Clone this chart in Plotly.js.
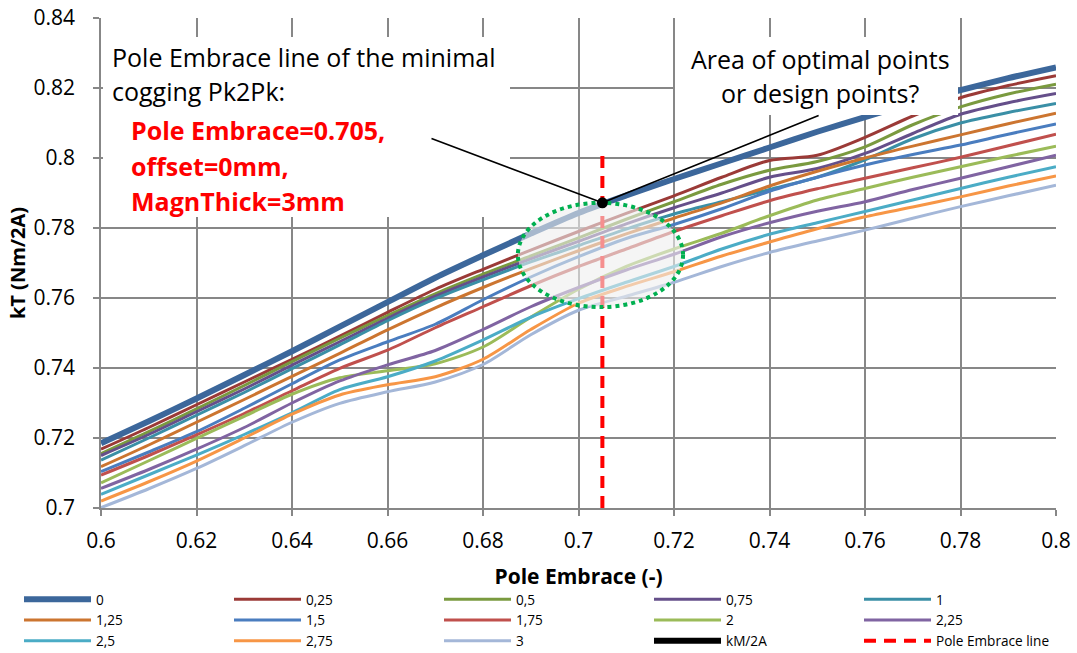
<!DOCTYPE html>
<html><head><meta charset="utf-8">
<script src="https://cdn.plot.ly/plotly-3.0.1.min.js"></script>
<style>html,body{margin:0;padding:0;background:#fff}#chart{width:1077px;height:653px}</style>
</head><body><div id="chart"></div>
<script>
// Pole embrace values (x axis)
const poleEmbrace = [0.60,0.61,0.62,0.63,0.64,0.65,0.66,0.67,0.68,0.69,0.70,0.71,0.72,0.73,0.74,0.75,0.76,0.77,0.78,0.79,0.80];

// Series names (offset in mm)
const seriesNames = ['0','0,25','0,5','0,75','1','1,25','1,5','1,75','2','2,25','2,5','2,75','3'];

// kT (Nm/2A) per offset
const kt_0   = [0.7185,0.7248,0.7313,0.7380,0.7448,0.7518,0.7588,0.7658,0.7722,0.7784,0.7843,0.7893,0.7940,0.7985,0.8030,0.8075,0.8117,0.8157,0.8194,0.8228,0.8259];
const kt_025 = [0.7168,0.7230,0.7295,0.7360,0.7425,0.7491,0.7559,0.7625,0.7682,0.7737,0.7790,0.7842,0.7892,0.7945,0.7993,0.8008,0.8059,0.8120,0.8172,0.8207,0.8235];
const kt_05  = [0.7155,0.7218,0.7283,0.7350,0.7418,0.7485,0.7550,0.7612,0.7668,0.7720,0.7772,0.7825,0.7875,0.7925,0.7965,0.7990,0.8032,0.8095,0.8146,0.8183,0.8211];
const kt_075 = [0.7150,0.7210,0.7275,0.7340,0.7408,0.7475,0.7542,0.7605,0.7660,0.7712,0.7762,0.7812,0.7858,0.7900,0.7945,0.7970,0.8013,0.8070,0.8125,0.8158,0.8184];
const kt_1   = [0.7137,0.7200,0.7265,0.7330,0.7398,0.7466,0.7535,0.7598,0.7652,0.7703,0.7750,0.7797,0.7840,0.7875,0.7910,0.7945,0.7995,0.8055,0.8100,0.8130,0.8156];
const kt_125 = [0.7118,0.7180,0.7245,0.7310,0.7376,0.7442,0.7509,0.7572,0.7630,0.7684,0.7735,0.7783,0.7828,0.7872,0.7920,0.7962,0.8000,0.8034,0.8066,0.8098,0.8128];
const kt_15  = [0.7104,0.7160,0.7218,0.7285,0.7355,0.7423,0.7475,0.7525,0.7595,0.7660,0.7718,0.7770,0.7810,0.7855,0.7905,0.7945,0.7980,0.8010,0.8037,0.8068,0.8097];
const kt_175 = [0.7094,0.7150,0.7209,0.7270,0.7335,0.7399,0.7451,0.7515,0.7575,0.7635,0.7690,0.7740,0.7790,0.7835,0.7878,0.7912,0.7942,0.7972,0.8002,0.8035,0.8068];
const kt_2   = [0.7072,0.7135,0.7199,0.7262,0.7325,0.7372,0.7392,0.7412,0.7460,0.7545,0.7625,0.7690,0.7740,0.7785,0.7835,0.7880,0.7913,0.7945,0.7975,0.8005,0.8034];
const kt_225 = [0.7056,0.7110,0.7168,0.7230,0.7300,0.7363,0.7409,0.7450,0.7510,0.7575,0.7630,0.7680,0.7725,0.7775,0.7815,0.7848,0.7875,0.7910,0.7942,0.7975,0.8008];
const kt_25  = [0.7039,0.7095,0.7151,0.7210,0.7272,0.7338,0.7375,0.7420,0.7480,0.7545,0.7598,0.7645,0.7690,0.7740,0.7782,0.7815,0.7847,0.7880,0.7913,0.7945,0.7975];
const kt_275 = [0.7020,0.7075,0.7134,0.7200,0.7268,0.7323,0.7352,0.7375,0.7425,0.7510,0.7585,0.7633,0.7675,0.7720,0.7760,0.7798,0.7832,0.7860,0.7889,0.7920,0.7949];
const kt_3   = [0.7001,0.7055,0.7113,0.7178,0.7245,0.7299,0.7332,0.7360,0.7410,0.7495,0.7565,0.7605,0.7645,0.7690,0.7730,0.7763,0.7794,0.7828,0.7861,0.7892,0.7922];

// Optimal point (minimal cogging Pk2Pk) and pole embrace line
const optPoleEmbrace = [0.705];
const optKt = [0.7872];
const poleLineX = [0.705, 0.705];
const poleLineY = [0.70, 0.801];

// Area of optimal points (ellipse bounds in data units)
const areaX = [0.6873, 0.7219];
const areaY = [0.7574, 0.7872];

// Callout text anchors (data units)
const calloutLeft = [0.6689, 0.8057];
const calloutRight = [0.7506, 0.8123];

const allSeries = [kt_0,kt_025,kt_05,kt_075,kt_1,kt_125,kt_15,kt_175,kt_2,kt_225,kt_25,kt_275,kt_3];
const colors = ['#3C679B','#9B3A37','#7A9A3F','#654F8A','#3A8FA6','#CC7530','#4A7DBF','#C0504D','#9BBB59','#8064A2','#4BACC6','#F79646','#A4B7D8'];

const FONT = '"Open Sans", Lato, sans-serif';

const traces = allSeries.map((ys, i) => ({
  type: 'scatter', mode: 'lines', name: seriesNames[i],
  x: poleEmbrace, y: ys,
  line: {color: colors[i], width: i === 0 ? 6 : 3, shape: 'spline', smoothing: 0.8},
  hoverinfo: 'x+y+name'
}));

traces.push({
  type: 'scatter', mode: 'lines', name: 'kM/2A',
  x: optPoleEmbrace, y: optKt,
  line: {color: '#000000', width: 6}
});
traces.push({
  type: 'scatter', mode: 'lines', name: 'Pole Embrace line',
  x: poleLineX, y: poleLineY,
  line: {color: '#FF0000', width: 4, dash: '12px,8px'}
});

const px = v => (v - 101) / 955;   // pixel -> paper x
const py = v => (508 - v) / 490;   // pixel -> paper y

const txt = (x, y, text, anchor, color, size) => ({
  xref: 'paper', yref: 'paper', x: px(x), y: py(y), xanchor: anchor, yanchor: 'middle', showarrow: false,
  text: text, font: {family: FONT, size: size, color: color}
});

const annotations = [
  // callout lines with the dot at the optimum
  {x: optPoleEmbrace[0], y: optKt[0], xref: 'x', yref: 'y', ax: calloutLeft[0], ay: calloutLeft[1], axref: 'x', ayref: 'y',
   text: ' ', font: {size: 1}, showarrow: true, arrowhead: 6, arrowsize: 1.7, arrowwidth: 1.6, arrowcolor: '#000', standoff: 0},
  {x: optPoleEmbrace[0], y: optKt[0], xref: 'x', yref: 'y', ax: calloutRight[0], ay: calloutRight[1], axref: 'x', ayref: 'y',
   text: ' ', font: {size: 1}, showarrow: true, arrowhead: 0, arrowwidth: 1.6, arrowcolor: '#000', standoff: 0},
  // left text box
  txt(110, 57, 'Pole Embrace line of the minimal', 'left', '#000', 25),
  txt(110, 91, 'cogging Pk2Pk:', 'left', '#000', 25),
  txt(129, 130, '<b>Pole Embrace=0.705,</b>', 'left', '#FF0000', 25),
  txt(129, 166, '<b>offset=0mm,</b>', 'left', '#FF0000', 25),
  txt(129, 201, '<b>MagnThick=3mm</b>', 'left', '#FF0000', 25),
  // right text box
  txt(820, 59, 'Area of optimal points', 'center', '#000', 25),
  txt(820, 93, 'or design points?', 'center', '#000', 25)
];

const shapes = [
  {type: 'circle', xref: 'x', yref: 'y', x0: areaX[0], x1: areaX[1], y0: areaY[0], y1: areaY[1],
   line: {color: '#00B050', width: 4, dash: 'dot'}, fillcolor: 'rgba(238,238,238,0.6)', layer: 'above'},
  {type: 'rect', xref: 'paper', yref: 'paper', x0: px(103), x1: px(510), y0: py(217), y1: py(37),
   line: {width: 0}, fillcolor: '#FFFFFF', layer: 'above'},
  {type: 'rect', xref: 'paper', yref: 'paper', x0: px(675), x1: px(958), y0: py(115), y1: py(37),
   line: {width: 0}, fillcolor: '#FFFFFF', layer: 'above'}
];

const layout = {
  width: 1077, height: 653,
  margin: {l: 101, r: 21, t: 18, b: 145, autoexpand: false},
  paper_bgcolor: '#fff', plot_bgcolor: '#fff',
  font: {family: FONT, color: '#000'},
  showlegend: true,
  xaxis: {
    range: [0.6, 0.8], dtick: 0.02, tick0: 0.6,
    showgrid: true, gridcolor: '#878787', gridwidth: 1.5,
    showline: true, linecolor: '#878787', linewidth: 1.5,
    ticks: 'outside', ticklen: 6, tickcolor: '#878787', tickwidth: 1.5,
    ticklabelstandoff: 7,
    tickfont: {family: FONT, size: 21, color: '#000'},
    zeroline: false,
    title: {text: 'Pole Embrace (-)', font: {family: FONT, size: 21, weight: 'bold', color: '#000'}, standoff: 16}
  },
  yaxis: {
    range: [0.7, 0.84], dtick: 0.02, tick0: 0.7,
    showgrid: true, gridcolor: '#878787', gridwidth: 1.5,
    showline: true, linecolor: '#878787', linewidth: 1.5,
    ticks: 'outside', ticklen: 6, tickcolor: '#878787', tickwidth: 1.5,
    ticklabelstandoff: 14,
    tickfont: {family: FONT, size: 21, color: '#000'},
    zeroline: false,
    title: {text: 'kT (Nm/2A)', font: {family: FONT, size: 20, weight: 'bold', color: '#000'}, standoff: 3}
  },
  legend: {
    orientation: 'h', x: px(19), y: py(584), xanchor: 'left', yanchor: 'top',
    entrywidth: 128, entrywidthmode: 'pixels', itemwidth: 67,
    font: {family: FONT, size: 13.6, color: '#000'},
    bgcolor: 'rgba(0,0,0,0)', traceorder: 'normal'
  },
  annotations: annotations,
  shapes: shapes
};

Plotly.newPlot('chart', traces, layout, {displayModeBar: false, responsive: false});
</script>
</body></html>
